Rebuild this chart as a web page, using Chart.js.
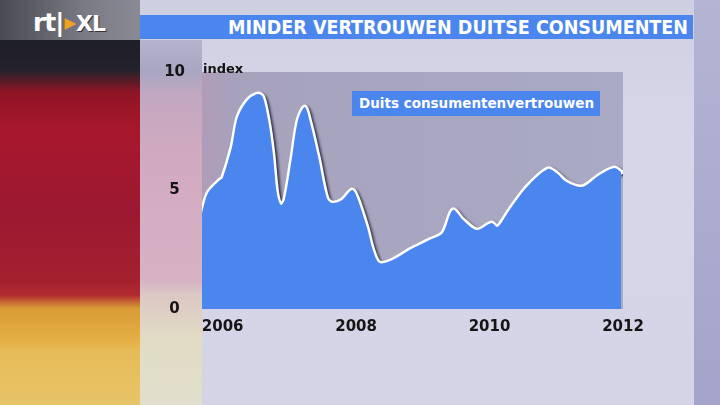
<!DOCTYPE html>
<html>
<head>
<meta charset="utf-8">
<script src="https://cdn.jsdelivr.net/npm/chart.js@4"></script>
<style>
  body { margin: 0; width: 720px; height: 405px; overflow: hidden; position: relative;
    background: linear-gradient(to bottom, #cfcfe2 0px, #d6d6e8 120px, #d4d4e6 405px);
    font-family: 'DejaVu Sans', sans-serif; }
  .strip { position: absolute; left: 694px; top: 0; width: 26px; height: 405px;
    background: linear-gradient(to bottom, #b4b4d4, #a4a4cc); }
  .logobox { position: absolute; left: 0; top: 0; width: 140px; height: 40px;
    background: linear-gradient(to right, #4a4a52, #7a7a84 60%, #8a8a94); }
  .flag { position: absolute; left: 0; top: 40px; width: 140px; height: 365px;
    background: linear-gradient(to bottom, #1e1e26 0px, #24222c 30px, #8e1424 52px, #a8182c 90px,
      #9c1830 170px, #a4202e 240px, #b02a30 255px, #d89a34 268px, #e4b044 300px, #e6bc58 312px, #e8c468 365px); }
  .veil { position: absolute; left: 140px; top: 40px; width: 62px; height: 365px;
    background: linear-gradient(to bottom, #b6b4cc 0px, #a8a6c2 30px, #c2a8c0 55px, #d2aac0 120px,
      #d6b2c4 240px, #dcc8c4 255px, #e2dcc4 300px, #e0decc 365px); }
  .logo { position: absolute; left: 33px; top: 8px; color: #fff; font-weight: bold; font-size: 25px;
    letter-spacing: -1px; white-space: nowrap; }
  .logo .tri { color: #f2a21e; font-size: 15px; position: relative; top: -3px; margin: 0 1px; }
  .logo .xl { text-shadow: 1px 1px 0 #333; font-size: 22px; }
  .title { position: absolute; left: 140px; top: 15px; width: 553px; height: 24px; background: #4a86ee;
    color: #fff; font-family: 'DejaVu Sans Condensed', 'DejaVu Sans', sans-serif; font-weight: bold;
    font-size: 19.5px; line-height: 25px; text-align: right; box-sizing: border-box; padding-right: 5px; }
  .unit { position: absolute; left: 203px; top: 61px; font-weight: bold; font-size: 13px; color: #111; }
  .legend { position: absolute; left: 352px; top: 91px; width: 248px; height: 25px; background: #4a86ee;
    color: #fff; font-weight: bold; font-size: 13.5px; line-height: 25px; box-sizing: border-box; padding-left: 7px;
    white-space: nowrap; }
  canvas { position: absolute; left: 0; top: 0; }
</style>
</head>
<body>
<div class="strip"></div>
<div class="logobox"></div>
<div class="flag"></div>
<div class="veil"></div>
<div class="logo">rt|<span class="tri">&#9654;</span><span class="xl">XL</span></div>
<div class="title">MINDER VERTROUWEN DUITSE CONSUMENTEN</div>
<canvas id="myChart" width="720" height="405"></canvas>
<div class="unit">index</div>
<div class="legend">Duits consumentenvertrouwen</div>
<script>
const seriesName = 'Duits consumentenvertrouwen'
const yearTicks = [2006, 2008, 2010, 2012]
const yTicks = [0, 5, 10]

// time in decimal years
const dates = [
  2005.69, 2005.78, 2005.96, 2006.00, 2006.14, 2006.23, 2006.38, 2006.53, 2006.60, 2006.68,
  2006.75, 2006.81, 2006.87, 2006.93, 2007.04, 2007.13, 2007.23, 2007.31, 2007.43, 2007.56,
  2007.64, 2007.79, 2007.94, 2008.01, 2008.16, 2008.25, 2008.35, 2008.55, 2008.80, 2009.10,
  2009.30, 2009.45, 2009.60, 2009.81, 2010.03, 2010.12, 2010.30, 2010.56, 2010.87, 2011.00,
  2011.15, 2011.39, 2011.65, 2011.87, 2011.97
]
const values = [
  4.05, 4.89, 5.44, 5.53, 6.84, 8.10, 8.82, 9.07, 8.95, 7.97,
  6.58, 4.89, 4.39, 4.60, 6.41, 7.97, 8.52, 7.85, 6.41, 4.68,
  4.47, 4.60, 5.02, 4.73, 3.46, 2.49, 1.94, 2.07, 2.49, 2.91,
  3.21, 4.18, 3.76, 3.33, 3.63, 3.46, 4.18, 5.15, 5.91, 5.74,
  5.36, 5.15, 5.65, 5.95, 5.78
]

const points = dates.map((d, i) => ({ x: d, y: values[i] }))

const plotBg = {
  id: 'plotBg',
  beforeDraw: (chart) => {
    const { ctx, chartArea: a } = chart
    const g = ctx.createLinearGradient(a.left, 0, a.right, 0)
    g.addColorStop(0, 'rgb(176,156,184)')
    g.addColorStop(0.08, 'rgb(166,162,188)')
    g.addColorStop(1, 'rgb(170,170,196)')
    ctx.save()
    ctx.fillStyle = g
    ctx.fillRect(a.left, a.top, a.right - a.left, a.bottom - a.top)
    ctx.restore()
  }
}

const lineShadow = {
  id: 'lineShadow',
  beforeDatasetDraw: (chart, args) => {
    if (args.index !== 1) return
    const ctx = chart.ctx
    ctx.save()
    ctx.shadowColor = 'rgba(10,10,30,0.8)'
    ctx.shadowBlur = 3
    ctx.shadowOffsetX = 2
    ctx.shadowOffsetY = 2
  },
  afterDatasetDraw: (chart, args) => {
    if (args.index === 1) chart.ctx.restore()
  }
}

const tickFont = { family: 'DejaVu Sans', weight: 'bold', size: 15 }

new Chart(document.getElementById('myChart').getContext('2d'), {
  type: 'line',
  data: {
    datasets: [
      {
        label: seriesName,
        data: points,
        borderWidth: 0,
        backgroundColor: '#4a86ee',
        fill: 'origin',
        pointRadius: 0,
        tension: 0.3
      },
      {
        label: seriesName,
        data: points,
        borderColor: '#ffffff',
        borderWidth: 5,
        borderCapStyle: 'round',
        borderJoinStyle: 'round',
        fill: false,
        pointRadius: 0,
        tension: 0.3
      }
    ]
  },
  options: {
    responsive: false,
    animation: false,
    layout: { padding: { left: 150, right: 97, top: 72, bottom: 66 } },
    plugins: { legend: { display: false }, tooltip: { enabled: false } },
    scales: {
      x: {
        type: 'linear',
        min: 2005.69,
        max: 2012,
        afterBuildTicks: (scale) => { scale.ticks = yearTicks.map(v => ({ value: v })) },
        afterFit: (scale) => { scale.height = 30 },
        grid: { display: false },
        border: { display: false },
        ticks: { color: '#151515', font: tickFont, padding: 1, maxRotation: 0, autoSkip: false,
          callback: (v) => String(v) }
      },
      y: {
        min: 0,
        max: 10,
        afterBuildTicks: (scale) => { scale.ticks = yTicks.map(v => ({ value: v })) },
        afterFit: (scale) => { scale.width = 52 },
        grid: { display: false },
        border: { display: false },
        ticks: { color: '#151515', font: tickFont, crossAlign: 'center', padding: 9 }
      }
    }
  },
  plugins: [plotBg, lineShadow]
})
</script>
</body>
</html>
